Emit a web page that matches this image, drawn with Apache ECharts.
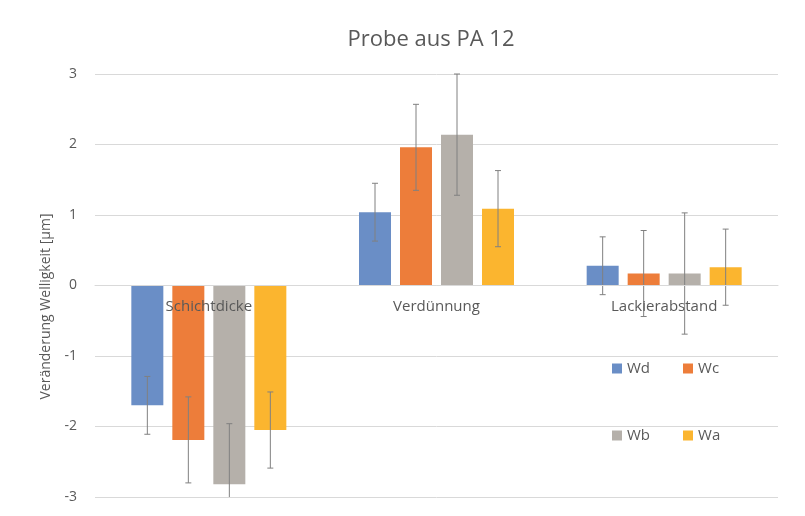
<!DOCTYPE html>
<html>
<head>
<meta charset="utf-8">
<script src="https://cdn.jsdelivr.net/npm/echarts@6/dist/echarts.min.js"></script>
<style>
  html, body { margin: 0; padding: 0; background: #fff; }
  #chart { width: 805px; height: 516px; }
</style>
</head>
<body>
<div id="chart"></div>
<script>
// Kategorien und Werte
const categories = ['Schichtdicke', 'Verdünnung', 'Lackierabstand']
const seriesNames = ['Wd', 'Wc', 'Wb', 'Wa']
const Wd = [-1.70, 1.04, 0.28]
const Wc = [-2.19, 1.96, 0.17]
const Wb = [-2.82, 2.14, 0.17]
const Wa = [-2.05, 1.09, 0.26]
// Fehlerbalken (+/-)
const errWd = [0.41, 0.41, 0.41]
const errWc = [0.61, 0.61, 0.61]
const errWb = [0.86, 0.86, 0.86]
const errWa = [0.54, 0.54, 0.54]
const yTicks = [-3, -2, -1, 0, 1, 2, 3]

const values = [Wd, Wc, Wb, Wa]
const errors = [errWd, errWc, errWb, errWa]
const colors = ['#6a8ec6', '#ed7d3a', '#b5b0aa', '#fbb52f']

const BAR_W = 32
const BAR_GAP = 9
const textColor = '#595959'
const font = 'Open Sans'

const myChart = echarts.init(document.getElementById('chart'))

const barSeries = values.map((data, i) => ({
  name: seriesNames[i],
  type: 'bar',
  barWidth: BAR_W,
  barGap: (BAR_GAP / BAR_W * 100) + '%',
  itemStyle: { color: colors[i] },
  data: data
}))

const errorSeries = values.map((data, i) => ({
  type: 'custom',
  silent: true,
  z: 5,
  data: data.map((v, k) => [k, v - errors[i][k], v + errors[i][k]]),
  renderItem(params, api) {
    const k = api.value(0)
    const lo = api.coord([k, api.value(1)])
    const hi = api.coord([k, api.value(2)])
    const offset = (i - 1.5) * (BAR_W + BAR_GAP)
    const x = lo[0] + offset
    const cs = params.coordSys
    const yMax = cs.y + cs.height
    const yMin = cs.y
    const y1 = Math.min(lo[1], yMax)
    const y2 = Math.max(hi[1], yMin)
    const style = { stroke: '#808080', lineWidth: 1 }
    const children = [
      { type: 'line', shape: { x1: x, y1: y1, x2: x, y2: y2 }, style: style }
    ]
    if (lo[1] <= yMax) children.push({ type: 'line', shape: { x1: x - 3, y1: lo[1], x2: x + 3, y2: lo[1] }, style: style })
    if (hi[1] >= yMin) children.push({ type: 'line', shape: { x1: x - 3, y1: hi[1], x2: x + 3, y2: hi[1] }, style: style })
    return { type: 'group', children: children }
  }
}))

const option = {
  animation: false,
  color: colors,
  textStyle: { fontFamily: font },
  title: {
    text: 'Probe aus PA 12',
    left: 426,
    textAlign: 'center',
    top: 24,
    textStyle: { fontFamily: font, fontSize: 22, fontWeight: 'normal', color: textColor }
  },
  legend: [
    {
      data: ['Wd', 'Wc'],
      left: 607,
      top: 356,
      itemWidth: 10,
      itemHeight: 10,
      itemGap: 33,
      icon: 'rect',
      textStyle: { fontFamily: font, fontSize: 15, color: textColor }
    },
    {
      data: ['Wb', 'Wa'],
      left: 607,
      top: 423,
      itemWidth: 10,
      itemHeight: 10,
      itemGap: 33,
      icon: 'rect',
      textStyle: { fontFamily: font, fontSize: 15, color: textColor }
    }
  ],
  grid: { left: 95, right: 27, top: 74, bottom: 19, containLabel: false, outerBoundsMode: 'none' },
  xAxis: {
    type: 'category',
    data: categories,
    axisLine: { onZero: false, lineStyle: { color: '#d9d9d9' } },
    axisTick: { show: false },
    axisLabel: { fontFamily: font, fontSize: 15, color: textColor, margin: 14 },
    z: 10
  },
  yAxis: {
    type: 'value',
    min: yTicks[0],
    max: yTicks[yTicks.length - 1],
    interval: 1,
    name: 'Veränderung Welligkeit [µm]',
    nameLocation: 'middle',
    nameGap: 42,
    nameTextStyle: { fontFamily: font, fontSize: 14, color: textColor, padding: [0, 42, 0, 0] },
    axisLabel: { fontFamily: font, fontSize: 14, color: textColor, margin: 18 },
    axisLine: { show: false },
    axisTick: { show: false },
    splitLine: { lineStyle: { color: '#d9d9d9' } }
  },
  series: barSeries.concat(errorSeries)
}

myChart.setOption(option)

// Kategorieachse auf die Nulllinie schieben
const yZero = myChart.convertToPixel({ yAxisIndex: 0 }, 0)
const yBottom = myChart.convertToPixel({ yAxisIndex: 0 }, yTicks[0])
myChart.setOption({ xAxis: { offset: -(yBottom - yZero) } })
</script>
</body>
</html>
